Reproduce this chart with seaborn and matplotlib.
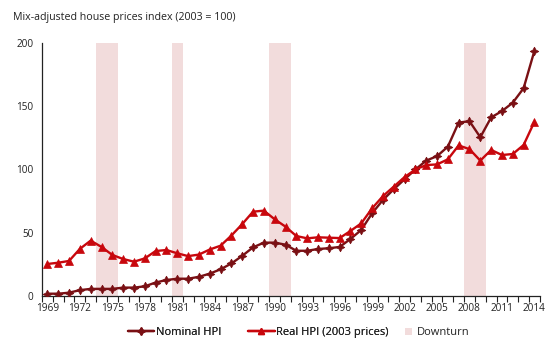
import numpy as np
import pandas as pd
import matplotlib
matplotlib.use("Agg")
import matplotlib.pyplot as plt
from matplotlib.lines import Line2D
from matplotlib.patches import Patch
import seaborn as sns

years = list(range(1969, 2015))

nominal_hpi = [2.2, 2.2, 3.0, 5.0, 6.0, 6.0, 6.0, 7.0, 7.0, 8.0,
               11.0, 13.0, 14.0, 14.0, 15.5, 18.0, 21.4, 26.0, 32.0, 38.7,
               42.4, 42.4, 40.8, 36.0, 36.0, 37.4, 38.0, 39.0, 45.3, 52.4,
               65.5, 76.0, 84.4, 92.3, 100.0, 107.0, 110.5, 118.0, 137.0, 138.0,
               125.4, 141.0, 146.0, 152.6, 164.0, 193.5]

real_hpi = [25.6, 26.6, 28.0, 37.5, 44.0, 39.0, 32.7, 29.5, 27.4, 30.0,
            35.8, 36.6, 34.0, 31.8, 33.0, 37.0, 40.0, 48.0, 57.0, 66.8,
            67.6, 60.8, 55.0, 47.6, 45.8, 46.6, 46.3, 46.0, 51.6, 57.6,
            69.4, 79.0, 86.5, 94.0, 100.0, 103.5, 104.0, 108.0, 119.0, 116.0,
            107.0, 115.4, 111.4, 112.2, 119.3, 137.6]

# Downturn periods (first and last year shaded)
downturns = [(1974, 1975), (1981, 1981), (1990, 1991), (2008, 2009)]

tick_years = list(range(1969, 2015, 3))

series_names = ["Nominal HPI", "Real HPI (2003 prices)"]
colors = {"Nominal HPI": "#7a1014", "Real HPI (2003 prices)": "#c8070d"}
markers = {"Nominal HPI": (4, 1, 0), "Real HPI (2003 prices)": "^"}
band_color = "#f2dcdc"

df = pd.DataFrame({
    "year": years * 2,
    "value": nominal_hpi + real_hpi,
    "series": [series_names[0]] * len(years) + [series_names[1]] * len(years),
})

sns.set_theme(style="white")
plt.rcParams["font.family"] = ["Open Sans", "DejaVu Sans"]

fig = plt.figure(figsize=(5.6, 3.45), dpi=100)
ax = fig.add_axes([0.075, 0.1406, 0.889, 0.7362])

for start, end in downturns:
    ax.axvspan(start - 0.5, end + 0.5, color=band_color, lw=0, zorder=0)

sns.lineplot(data=df, x="year", y="value", hue="series", style="series",
             palette=colors, markers=markers, dashes=False, linewidth=1.7,
             legend=False, ax=ax, zorder=3)
for line in ax.lines:
    line.set_markeredgecolor(line.get_color())
    line.set_markeredgewidth(0.5)
    line.set_markersize(6.3)

ax.set_xlim(years[0] - 0.5, years[-1] + 0.5)
ax.set_ylim(0, 200)
ax.set_yticks([0, 50, 100, 150, 200])
ax.set_xticks(tick_years)
ax.set_xticks(np.arange(years[0] - 0.5, years[-1] + 1.0, 1.0), minor=True)
ax.tick_params(axis="x", which="major", length=0, pad=5, labelsize=7.2, colors="#222222")
ax.tick_params(axis="x", which="minor", length=4, width=0.8, color="#222222", direction="out", bottom=True)
ax.tick_params(axis="y", length=0, pad=6, labelsize=7.2, colors="#222222")
ax.set_xlabel("")
ax.set_ylabel("")

for side in ["top", "right"]:
    ax.spines[side].set_visible(False)
for side in ["left", "bottom"]:
    ax.spines[side].set_color("#222222")
    ax.spines[side].set_linewidth(0.9)

fig.text(0.023, 0.95, "Mix-adjusted house prices index (2003 = 100)",
         fontsize=7.7, color="#222222", va="center", ha="left")

line_handles = [
    Line2D([0], [0], color=colors[series_names[0]], lw=1.7,
           marker=markers[series_names[0]], ms=5.5, mec=colors[series_names[0]]),
    Line2D([0], [0], color=colors[series_names[1]], lw=1.7,
           marker=markers[series_names[1]], ms=5, mec=colors[series_names[1]]),
]
leg_lines = fig.legend(line_handles, series_names, loc="center left",
                       bbox_to_anchor=(0.228, 0.036), ncol=2, frameon=False,
                       fontsize=8, handlelength=2.4, handletextpad=0.15,
                       columnspacing=2.4, borderpad=0, borderaxespad=0,
                       labelcolor="#222222")
fig.add_artist(leg_lines)

fig.legend([Patch(facecolor=band_color, edgecolor="none")], ["Downturn"],
           loc="center left", bbox_to_anchor=(0.724, 0.036), frameon=False,
           fontsize=8, handlelength=0.6, handleheight=0.6, handletextpad=0.4,
           borderpad=0, borderaxespad=0, labelcolor="#222222")

fig.savefig("out.png", dpi=100, facecolor="white")
